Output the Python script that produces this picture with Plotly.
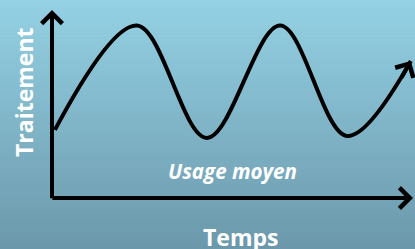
import plotly.graph_objects as go

# Data (time vs. treatment, arbitrary units 0-10)
temps = [0.08, 2.35, 4.29, 6.32, 8.17, 9.94]
traitement = [3.64, 9.22, 3.21, 9.22, 3.32, 7.33]

x_label = "Temps"
y_label = "Traitement"
inner_label = "Usage moyen"

X_MAX = 10.0
Y_MAX = 10.05

W, H = 415, 249
fig = go.Figure()

fig.add_trace(go.Scatter(
    x=temps, y=traitement,
    mode="lines",
    line=dict(color="black", width=4, shape="spline", smoothing=1.0),
    hoverinfo="skip", showlegend=False,
))

# background gradient as stripes
top = (148, 209, 228)
bot = (108, 152, 171)
N = 60
shapes = []
for i in range(N):
    f = i / (N - 1)
    c = tuple(int(round(top[k] + (bot[k] - top[k]) * f)) for k in range(3))
    shapes.append(dict(type="rect", xref="paper", yref="paper",
                       x0=0, x1=1, y0=1 - (i + 1) / N - 0.002, y1=1 - i / N,
                       fillcolor="rgb(%d,%d,%d)" % c, line=dict(width=0), layer="below"))

annotations = [
    # x axis
    dict(x=X_MAX, y=0, ax=-0.03, ay=0, xref="x", yref="y", axref="x", ayref="y",
         text="", showarrow=True, arrowhead=4, arrowwidth=4, arrowsize=1, arrowcolor="black"),
    # y axis
    dict(x=0, y=Y_MAX, ax=0, ay=-0.1, xref="x", yref="y", axref="x", ayref="y",
         text="", showarrow=True, arrowhead=4, arrowwidth=4, arrowsize=1, arrowcolor="black"),
    # curve arrow head (short tail in pixels along the end direction)
    dict(x=temps[-1], y=traitement[-1], ax=-10, ay=18,
         xref="x", yref="y",
         text="", showarrow=True, arrowhead=4, arrowwidth=4, arrowsize=1, arrowcolor="black"),
    dict(x=240 / W, y=1 - 237 / H, xref="paper", yref="paper", text="<b>%s</b>" % x_label,
         showarrow=False, font=dict(family="Open Sans", size=23, color="white"),
         xanchor="center", yanchor="middle"),
    dict(x=24 / W, y=1 - 92 / H, xref="paper", yref="paper", text="<b>%s</b>" % y_label,
         showarrow=False, textangle=-90, font=dict(family="Open Sans", size=23, color="white"),
         xanchor="center", yanchor="middle"),
    dict(x=232 / W, y=1 - 171 / H, xref="paper", yref="paper",
         text="<b><i>%s</i></b>" % inner_label,
         showarrow=False, font=dict(family="Open Sans", size=20.5, color="white"),
         xanchor="center", yanchor="middle"),
]

px_per_x = 36.1
px_per_y = 18.7
fig.update_layout(
    width=W, height=H,
    margin=dict(l=0, r=0, t=0, b=0),
    paper_bgcolor="rgb(130,180,200)",
    plot_bgcolor="rgba(0,0,0,0)",
    xaxis=dict(range=[-52 / px_per_x, (W - 52) / px_per_x], visible=False, fixedrange=True),
    yaxis=dict(range=[-(H - 198) / px_per_y, 198 / px_per_y], visible=False, fixedrange=True),
    shapes=shapes,
    annotations=annotations,
)

fig.write_html("out.html", config={"displayModeBar": False},
               post_script="document.body.style.margin='0';document.body.style.overflow='hidden';")
